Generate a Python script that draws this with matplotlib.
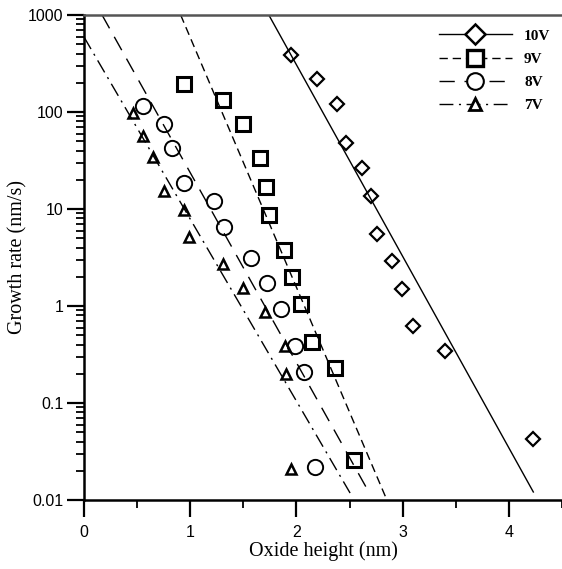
import matplotlib
matplotlib.use("Agg")
import matplotlib.pyplot as plt
import numpy as np
from matplotlib.lines import Line2D

# ---- data ----
x10 = [1.95, 2.19, 2.38, 2.47, 2.62, 2.70, 2.76, 2.90, 2.99, 3.10, 3.40, 4.23]
y10 = [390, 220, 121, 48, 26.5, 13.6, 5.5, 2.9, 1.5, 0.62, 0.34, 0.0425]
x9 = [0.945, 1.31, 1.50, 1.66, 1.71, 1.74, 1.88, 1.96, 2.04, 2.15, 2.36, 2.54]
y9 = [195, 133, 76, 33.6, 16.9, 8.7, 3.8, 2.0, 1.05, 0.43, 0.23, 0.026]
x8 = [0.56, 0.75, 0.83, 0.945, 1.22, 1.32, 1.57, 1.72, 1.85, 1.99, 2.07, 2.17]
y8 = [115, 75, 43, 18.5, 12.2, 6.5, 3.1, 1.72, 0.93, 0.39, 0.21, 0.022]
x7 = [0.46, 0.56, 0.65, 0.75, 0.945, 0.99, 1.31, 1.50, 1.70, 1.89, 1.90, 1.95]
y7 = [98, 57, 34, 15.3, 9.8, 5.1, 2.7, 1.55, 0.87, 0.39, 0.20, 0.021]

# fitted lines (end points)
fx10 = [1.74, 4.23]; fy10 = [1000, 0.0121]
fx9 = [0.91, 2.84]; fy9 = [1000, 0.0107]
fx8 = [0.17, 2.66]; fy8 = [1000, 0.0133]
fx7 = [0.0, 2.505]; fy7 = [593, 0.0118]

labels = ["10V", "9V", "8V", "7V"]
xticks = [0, 1, 2, 3, 4]
yticks = [0.01, 0.1, 1, 10, 100, 1000]
ytick_labels = ["0.01", "0.1", "1", "10", "100", "1000"]

fig = plt.figure(figsize=(5.62, 5.69), dpi=100)
ax = fig.add_axes([84/562, (569-500)/569, (562-84)/562, 485/569])

sans = "Liberation Sans"
serif = "Liberation Serif"

ls10 = "-"
ls9 = (0, (6, 3.5))
ls8 = (0, (11, 7))
ls7 = (0, (10, 4, 1.5, 4))

ax.plot(fx10, fy10, color="black", lw=1.0, ls=ls10)
ax.plot(fx9, fy9, color="black", lw=1.0, ls=ls9)
ax.plot(fx8, fy8, color="black", lw=1.0, ls=ls8)
ax.plot(fx7, fy7, color="black", lw=1.0, ls=ls7)

ax.plot(x10, y10, ls="none", marker="D", ms=7.6, mfc="none", mec="black", mew=1.6)
ax.plot(x9, y9, ls="none", marker="s", ms=10.5, mfc="none", mec="black", mew=2.2)
ax.plot(x8, y8, ls="none", marker="o", ms=11, mfc="none", mec="black", mew=1.4)
ax.plot(x7, y7, ls="none", marker="^", ms=7.5, mfc="none", mec="black", mew=1.8)

handles = [
    Line2D([], [], color="black", lw=1.0, ls=ls10, marker="D", ms=10, mfc="white", mec="black", mew=1.8),
    Line2D([], [], color="black", lw=1.0, ls=ls9, marker="s", ms=12, mfc="white", mec="black", mew=2.4),
    Line2D([], [], color="black", lw=1.0, ls=ls8, marker="o", ms=12, mfc="white", mec="black", mew=1.5),
    Line2D([], [], color="black", lw=1.0, ls=ls7, marker="^", ms=9, mfc="white", mec="black", mew=2.0),
]
leg = ax.legend(handles, labels, loc="upper right", bbox_to_anchor=(0.995, 0.99),
                frameon=False, handlelength=4.8, handletextpad=0.8,
                labelspacing=0.62, borderaxespad=0.2,
                prop={"family": serif, "weight": "bold", "size": 11})

ax.set_yscale("log")
ax.set_xlim(0, (562-84)/107)
ax.set_ylim(0.01, 1000)
ax.set_xticks(xticks)
ax.set_xticklabels([str(t) for t in xticks], family=sans, fontsize=11.5)
ax.set_xticks([0.5, 1.5, 2.5, 3.5, 4.5], minor=True)
ax.set_yticks(yticks)
ax.set_yticklabels(ytick_labels, family=sans, fontsize=11.5)
ax.yaxis.set_minor_locator(matplotlib.ticker.LogLocator(base=10, subs=np.arange(2, 10)))
ax.yaxis.set_minor_formatter(matplotlib.ticker.NullFormatter())

ax.tick_params(which="major", direction="out", length=12, width=1.6, pad=3)
ax.tick_params(which="minor", direction="out", length=6, width=1.3)
ax.tick_params(axis="x", which="major", pad=6)

for s in ["left", "bottom"]:
    ax.spines[s].set_linewidth(1.8)
ax.spines["top"].set_linewidth(1.8)
ax.spines["top"].set_color("#555555")
ax.spines["right"].set_visible(False)

ax.set_xlabel("Oxide height (nm)", family=serif, fontsize=14.5, labelpad=1)
ax.set_ylabel("Growth rate (nm/s)", family=serif, fontsize=14.5, labelpad=0)

fig.savefig("out.png", dpi=100)
